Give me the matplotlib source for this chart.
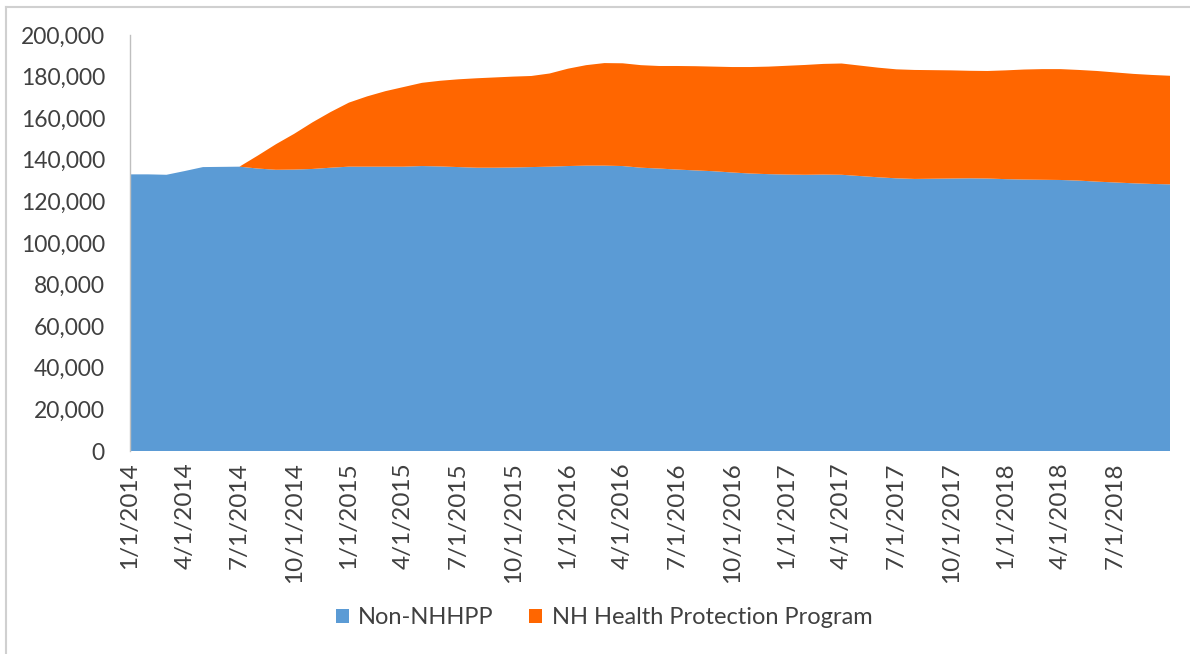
import matplotlib
matplotlib.use("Agg")
import matplotlib.pyplot as plt
from matplotlib.lines import Line2D
from matplotlib.ticker import FuncFormatter, FixedLocator

plt.rcParams['font.family'] = ['Lato', 'DejaVu Sans']

# Monthly, 1/1/2014 .. 10/1/2018
months = [f"{m}/1/{y}" for y in range(2014, 2019) for m in range(1, 13)][:58]

non_nhhpp = [133000, 133000, 132800, 134600, 136500, 136600, 136700, 135800, 135200, 135300,
             135600, 136200, 136700, 136700, 136700, 136700, 137000, 136800, 136500, 136200,
             136200, 136300, 136500, 136700, 137000, 137200, 137200, 137000, 136200, 135800,
             135300, 134900, 134500, 133900, 133400, 133100, 132900, 132800, 132900, 132800,
             132200, 131600, 131100, 130800, 130900, 131000, 131100, 131000, 130700, 130500,
             130400, 130300, 130000, 129500, 129100, 128700, 128400, 128200]

total = [133000, 133000, 132800, 134600, 136500, 136600, 136700, 142000, 147500, 152500,
         158000, 163000, 167500, 170500, 173000, 175000, 177000, 178000, 178700, 179200,
         179600, 180000, 180300, 181500, 183800, 185500, 186500, 186400, 185500, 185100,
         185100, 185000, 184800, 184600, 184600, 184800, 185200, 185600, 186100, 186300,
         185300, 184300, 183500, 183200, 183100, 183000, 182800, 182700, 183000, 183400,
         183600, 183600, 183200, 182700, 182000, 181300, 180800, 180400]

nhhpp = [t - b for t, b in zip(total, non_nhhpp)]

series_names = ["Non-NHHPP", "NH Health Protection Program"]
colors = ["#5B9BD5", "#FF6600"]
text_color = "#404040"

fig = plt.figure(figsize=(11.9, 6.54), dpi=100)
ax = fig.add_axes([130/1190, 1 - 451/654, 1040/1190, 416/654])

x = list(range(len(months)))
ax.stackplot(x, non_nhhpp, nhhpp, colors=colors, labels=series_names, linewidth=0)

ax.set_xlim(0, len(months) - 1)
ax.set_ylim(0, 200000)
ax.yaxis.set_major_locator(FixedLocator(range(0, 200001, 20000)))
ax.yaxis.set_major_formatter(FuncFormatter(lambda v, p: f"{int(v):,}"))

tick_idx = list(range(0, len(months) - 2, 3))
ax.set_xticks(tick_idx)
ax.set_xticklabels([months[i] for i in tick_idx], rotation=90)

ax.tick_params(axis='both', length=0, colors=text_color)
ax.tick_params(axis='x', pad=8, labelsize=17.5)
ax.tick_params(axis='y', pad=18, labelsize=16.5)

for s in ['top', 'right', 'bottom']:
    ax.spines[s].set_visible(False)
ax.spines['left'].set_color('#bfbfbf')
ax.spines['left'].set_linewidth(1)

leg = fig.legend(loc='center', bbox_to_anchor=(604/1190, 1 - 618/654), ncol=2, frameon=False,
                 fontsize=17, handlelength=0.55, handleheight=0.55, handletextpad=0.4,
                 columnspacing=1.5, labelcolor=text_color)

# chart-area border (top and left edges visible)
fig.add_artist(Line2D([6/1190, 1.0], [1 - 7/654, 1 - 7/654], transform=fig.transFigure,
                      color='#d0d0d0', linewidth=1.5))
fig.add_artist(Line2D([6/1190, 6/1190], [0.0, 1 - 7/654], transform=fig.transFigure,
                      color='#d0d0d0', linewidth=1.5))

fig.savefig("out.png", dpi=100, facecolor='white')
